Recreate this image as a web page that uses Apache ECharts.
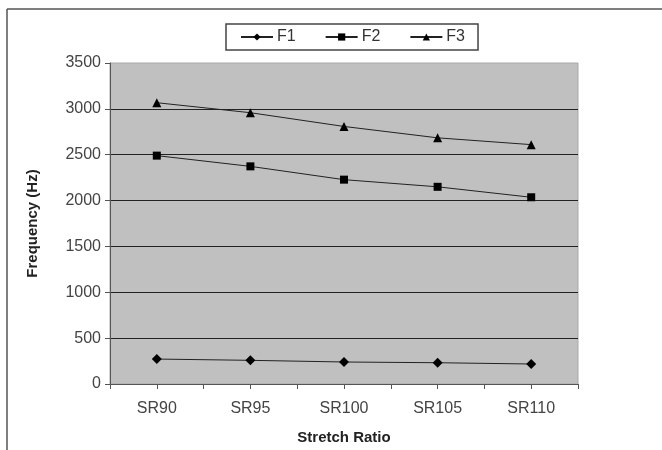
<!DOCTYPE html>
<html lang="en">
<head>
    <meta charset="UTF-8">
    <title>Stretch Ratio</title>
    <script src="https://cdn.jsdelivr.net/npm/echarts@6/dist/echarts.min.js"></script>
    <style>
        html, body { margin: 0; padding: 0; background: #fff; }
        #main { width: 662px; height: 450px; }
    </style>
</head>
<body>
    <div id="main"></div>
    <script>
        // data
        const categories = ['SR90', 'SR95', 'SR100', 'SR105', 'SR110']
        const f1 = [272, 258, 240, 232, 218]
        const f2 = [2490, 2373, 2228, 2150, 2036]
        const f3 = [3067, 2958, 2808, 2684, 2610]
        const yTicks = [0, 3500, 500]   // min, max, step

        const font = 'Liberation Sans, Arial, sans-serif'
        const lineStyle = { color: '#222', width: 1 }

        function makeSeries(name, data, symbol, size) {
            return {
                name: name,
                type: 'line',
                data: data,
                symbol: symbol,
                symbolSize: size,
                showAllSymbol: true,
                lineStyle: lineStyle,
                itemStyle: { color: '#000' },
                emphasis: { disabled: true },
                animation: false
            }
        }

        let chart = echarts.init(document.getElementById('main'))
        let option = {
            backgroundColor: '#fff',
            textStyle: { fontFamily: font },
            graphic: [
                // outer frame (top and left edges only show)
                { type: 'line', shape: { x1: 7, y1: 9, x2: 662, y2: 9 }, style: { stroke: '#555', lineWidth: 1.5 } },
                { type: 'line', shape: { x1: 7, y1: 9, x2: 7, y2: 450 }, style: { stroke: '#555', lineWidth: 1.5 } }
            ],
            legend: {
                left: 226,
                top: 24,
                width: 260,
                padding: [5, 13, 5, 14],
                itemGap: 29,
                itemWidth: 32,
                itemHeight: 9,
                borderColor: '#444',
                borderWidth: 1.5,
                textStyle: { fontFamily: font, fontSize: 16, color: '#333', padding: [0, 0, 0, -1] },
                data: ['F1', 'F2', 'F3']
            },
            grid: {
                left: 110,
                right: 84,
                top: 63,
                bottom: 65,
                show: true,
                backgroundColor: '#c0c0c0',
                borderColor: '#a8a8a8',
                borderWidth: 1
            },
            xAxis: [
                {
                    type: 'category',
                    data: categories,
                    boundaryGap: true,
                    name: 'Stretch Ratio',
                    nameLocation: 'middle',
                    nameGap: 46,
                    nameTextStyle: { fontFamily: font, fontSize: 15, fontWeight: 'bold', color: '#222' },
                    axisLine: { lineStyle: { color: '#555', width: 1 } },
                    axisTick: { show: true, length: 5, lineStyle: { color: '#555' } },
                    axisLabel: { fontFamily: font, fontSize: 16, color: '#444', margin: 17 },
                    splitLine: { show: false }
                },
                {
                    // second copy only for the ticks under each point
                    type: 'category',
                    data: categories,
                    position: 'bottom',
                    axisLine: { show: false },
                    axisTick: { show: true, alignWithLabel: true, length: 5, lineStyle: { color: '#555' } },
                    axisLabel: { show: false },
                    splitLine: { show: false }
                }
            ],
            yAxis: {
                type: 'value',
                min: yTicks[0],
                max: yTicks[1],
                interval: yTicks[2],
                name: 'Frequency (Hz)',
                nameLocation: 'middle',
                nameGap: 70,
                nameTextStyle: { fontFamily: font, fontSize: 15, fontWeight: 'bold', color: '#222' },
                axisLine: { show: true, lineStyle: { color: '#555', width: 1 } },
                axisTick: { show: true, length: 5, lineStyle: { color: '#555' } },
                axisLabel: { fontFamily: font, fontSize: 16, color: '#444', margin: 9, formatter: v => String(v) },
                splitLine: { show: true, showMinLine: false, showMaxLine: false, lineStyle: { color: '#222', width: 1 } }
            },
            series: [
                makeSeries('F1', f1, 'diamond', 10),
                makeSeries('F2', f2, 'rect', 8),
                makeSeries('F3', f3, 'triangle', 9)
            ]
        }
        chart.setOption(option)
    </script>
</body>
</html>
